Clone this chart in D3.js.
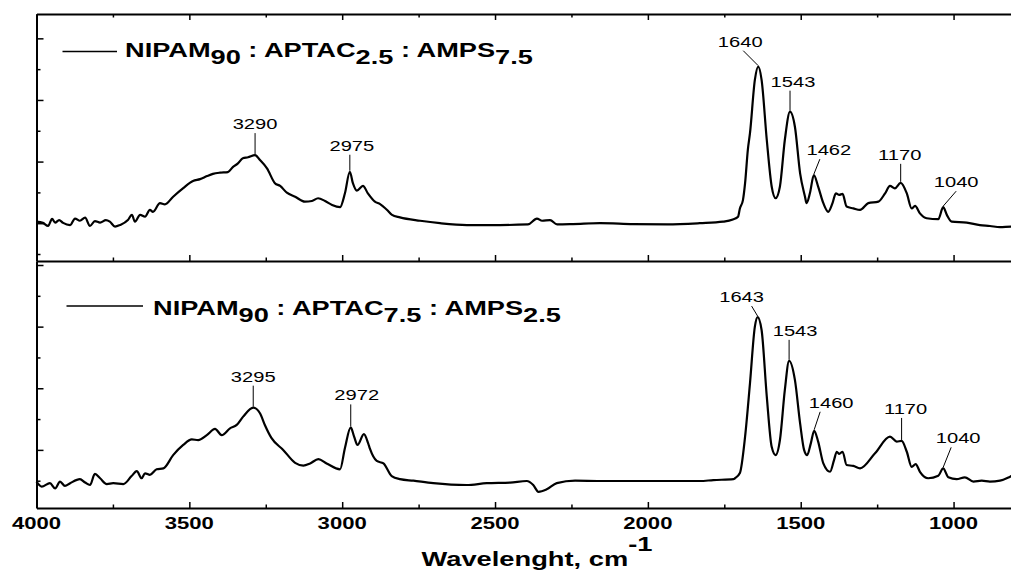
<!DOCTYPE html>
<html>
<head>
<meta charset="utf-8">
<script src="https://cdn.jsdelivr.net/npm/d3@7"></script>
<style>
  body { margin: 0; background: #fff; }
  svg { display: block; }
  text { font-family: Arial, "Liberation Sans", sans-serif; fill: #000; white-space: pre; }
</style>
</head>
<body>
<div id="chart"></div>
<script>
// ---- data (wavenumber cm-1, absorbance in a.u.) ----
const wnTop = [4000,3979,3962,3949,3939,3926,3913,3890,3874,3858,
  3841,3825,3809,3792,3773,3760,3743,3727,3701,3688,
  3678,3661,3645,3629,3619,3596,3580,3553,3521,3488,
  3465,3442,3423,3400,3374,3357,3341,3325,3308,3285,
  3269,3246,3220,3203,3181,3154,3122,3099,3079,3056,
  3033,3007,2991,2975,2965,2952,2932,2916,2893,2876,
  2853,2837,2811,2745,2680,2592,2484,2392,2363,2346,
  2320,2297,2245,2157,2049,1937,1830,1754,1722,1705,
  1699,1689,1682,1673,1666,1650,1639,1628,1611,1595,
  1582,1568,1552,1535,1519,1502,1486,1481,1470,1457,
  1443,1426,1410,1396,1385,1374,1363,1350,1328,1306,
  1279,1246,1224,1208,1192,1173,1153,1137,1126,1110,
  1088,1050,1034,1022,1006,957,914,881,848,812,800];
const absTop = [10.5,10.1,9.1,11.4,10.2,11.0,10.1,9.4,11.5,10.8,
  11.8,9.1,10.7,10.2,11.0,10.5,8.9,9.4,11.0,12.7,
  10.5,12.7,12.1,14.3,13.7,16.5,16.1,18.6,21.3,23.7,
  24.3,25.3,26.0,26.4,26.6,28.3,29.4,31.1,31.4,32.1,
  30.5,27.8,23.0,22.1,19.9,18.6,17.0,17.2,18.1,17.2,
  15.9,15.2,19.7,26.7,23.0,20.6,22.1,19.7,17.0,16.2,
  14.3,12.7,11.9,10.8,10.0,9.4,9.4,9.6,11.5,10.8,
  11.0,9.6,9.7,10.0,9.7,9.6,10.0,10.5,11.2,12.1,
  14.8,17.5,23.0,33.8,39.2,56.5,60.8,56.5,37.0,21.9,
  18.1,21.9,37.0,46.2,41.3,26.2,18.6,16.5,19.7,25.6,
  21.9,16.5,13.7,16.5,19.7,19.2,19.5,15.4,14.8,14.3,
  16.5,17.0,19.7,22.1,21.3,23.1,19.7,14.8,15.6,13.2,
  11.6,11.3,15.2,12.7,10.5,10.2,9.4,9.1,8.7,8.9,8.9];

const wnBottom = [4000,3983,3956,3939,3923,3907,3890,3858,3841,3825,
  3809,3792,3770,3749,3716,3689,3672,3656,3645,3629,
  3607,3585,3553,3520,3492,3471,3443,3416,3394,3367,
  3345,3324,3291,3269,3253,3231,3193,3154,3127,3105,
  3078,3051,3007,2991,2972,2961,2950,2929,2915,2909,
  2887,2865,2838,2811,2767,2702,2593,2527,2451,2396,
  2375,2358,2331,2298,2238,2157,2048,1938,1830,1786,
  1720,1715,1699,1682,1666,1650,1641,1628,1611,1595,
  1582,1568,1552,1538,1519,1502,1489,1479,1467,1456,
  1443,1426,1404,1391,1382,1374,1363,1350,1328,1306,
  1257,1208,1186,1170,1153,1137,1124,1110,1083,1050,
  1034,1017,990,963,935,908,881,848,815,800];
const absBottom = [-0.3,-1.9,-0.8,-2.5,-0.3,-1.7,-0.8,0.5,-0.6,-1.4,
  2.2,0.8,-1.1,-0.8,-1.1,1.5,3.1,0.8,2.4,1.9,
  3.7,4.0,8.3,11.6,13.4,13.2,14.8,16.8,14.8,17.0,
  18.1,20.8,23.7,21.9,18.1,13.8,10.0,5.8,4.9,5.6,
  7.0,5.6,3.7,10.6,17.3,14.3,11.6,15.1,12.1,10.3,
  6.4,5.6,1.5,0.5,0,-0.8,-1.4,-0.8,-0.6,-0.1,
  -1.4,-3.6,-2.8,-0.8,0,-0.1,-0.1,-0.1,-0.1,0.2,
  0.5,0.8,2.5,14.3,31.6,50.0,53.1,48.9,27.3,11.0,
  8.3,13.2,29.4,38.9,32.7,18.6,10.0,8.3,12.1,16.2,
  12.7,5.6,2.9,6.7,9.4,8.7,9.4,5.1,4.8,4.0,
  8.9,14.3,12.7,12.9,9.4,4.5,5.4,2.9,0.8,1.6,
  4.0,1.1,0.5,1.1,-0.3,0,-0.3,0,1.3,2.0];

const peaksTop = [3290, 2975, 1640, 1543, 1462, 1170, 1040];
const peaksBottom = [3295, 2972, 1643, 1543, 1460, 1170, 1040];

const xTickValues = [4000, 3500, 3000, 2500, 2000, 1500, 1000];
const xMinorValues = [3750, 3250, 2750, 2250, 1750, 1250];
const yTickValues = [0, 10, 20, 30, 40, 50, 60, 70];

const legendTop = [["NIPAM", "90"], [" : APTAC", "2.5"], [" : AMPS", "7.5"]];
const legendBottom = [["NIPAM", "90"], [" : APTAC", "7.5"], [" : AMPS", "2.5"]];
const xTitle = "Wavelenght, cm";

// ---- layout ----
const W = 1011, H = 570;
const SX = 1.3; // the original picture is stretched sideways

// leader offsets per peak label: [dx of leader top, leader height, dx of text]
const leadTop = [[0, 22, 0], [0, 17, 2], [-15, 16, -3], [0, 21, 3], [6, 16, 9], [0, 19, -1], [13, 16, 0]];
const leadBottom = [[0, 22, 0], [0, 23, 6], [-6, 11, -10], [0, 21, 6], [6, 19, 11], [0, 23, 4], [8, 21, 7]];

const svg = d3.select("#chart").append("svg")
  .attr("width", W)
  .attr("height", H);

const x = d3.scaleLinear().domain([4000, 800]).range([36.5, 1014.7]);
const yTop = d3.scaleLinear().domain([-2.27, 77.9]).range([261, 14]);
const yBottom = d3.scaleLinear().domain([-8.86, 71.3]).range([508, 261]);

const line = y => d3.line()
  .x(d => x(d.w))
  .y(d => y(d.a))
  .curve(d3.curveMonotoneX);

function drawPanel(wn, ab, y, peaks, lead) {
  const data = wn.map((w, i) => ({ w: w, a: ab[i] }));

  svg.append("path")
    .datum(data)
    .attr("fill", "none")
    .attr("stroke", "#000")
    .attr("stroke-width", 2.2)
    .attr("stroke-linejoin", "round")
    .attr("d", line(y));

  // peak labels with leader lines
  peaks.forEach((p, i) => {
    const pk = d3.greatest(data.filter(d => Math.abs(d.w - p) <= 15), d => d.a);
    const [ldx, lh, tdx] = lead[i];
    const px = x(pk.w), py = y(pk.a);
    svg.append("line")
      .attr("x1", px).attr("y1", py - 1)
      .attr("x2", px + ldx).attr("y2", py - lh)
      .attr("stroke", "#000")
      .attr("stroke-width", 1);
    svg.append("text")
      .attr("transform", `translate(${px + ldx + tdx},${py - lh - 4}) scale(${SX},1)`)
      .attr("text-anchor", "middle")
      .attr("font-size", 15.5)
      .text(p);
  });
}

drawPanel(wnTop, absTop, yTop, peaksTop, leadTop);
drawPanel(wnBottom, absBottom, yBottom, peaksBottom, leadBottom);

// ---- axes / frame ----
function styleAxis(g, withDomain) {
  g.selectAll(".tick line").attr("stroke", "#000").attr("stroke-width", 1.5);
  g.select(".domain").attr("stroke", "#000").attr("stroke-width", 2);
  if (!withDomain) g.select(".domain").remove();
  g.selectAll(".tick text").remove();
}

function xAxis(axisFn, yPos) {
  svg.append("g")
    .attr("transform", `translate(0,${yPos})`)
    .call(axisFn(x).tickValues(xTickValues).tickSize(-6).tickSizeOuter(0).tickFormat(""))
    .call(g => styleAxis(g, true));
  svg.append("g")
    .attr("transform", `translate(0,${yPos})`)
    .call(axisFn(x).tickValues(xMinorValues).tickSize(-3.5).tickSizeOuter(0).tickFormat(""))
    .call(g => styleAxis(g, false));
}
xAxis(d3.axisBottom, 508);
xAxis(d3.axisBottom, 261);
xAxis(d3.axisTop, 14);

function yAxis(y) {
  svg.append("g")
    .attr("transform", "translate(36.5,0)")
    .call(d3.axisLeft(y).tickValues(yTickValues.filter((v, i) => i % 2 === 1)).tickSize(-7).tickSizeOuter(0).tickFormat(""))
    .call(g => styleAxis(g, true));
  svg.append("g")
    .attr("transform", "translate(36.5,0)")
    .call(d3.axisLeft(y).tickValues(yTickValues.filter((v, i) => i % 2 === 0)).tickSize(-4).tickSizeOuter(0).tickFormat(""))
    .call(g => styleAxis(g, false));
}
yAxis(yTop);
yAxis(yBottom);

svg.append("line")
  .attr("x1", x(800)).attr("x2", x(800))
  .attr("y1", 14).attr("y2", 508)
  .attr("stroke", "#000").attr("stroke-width", 2);

// tick labels
svg.append("g")
  .selectAll("text")
  .data(xTickValues)
  .join("text")
  .attr("transform", d => `translate(${x(d)},528.5) scale(${SX},1)`)
  .attr("text-anchor", "middle")
  .attr("font-size", 17)
  .attr("font-weight", "bold")
  .text(d => d);

// axis title
const title = svg.append("text")
  .attr("transform", `translate(421.5,566) scale(${SX},1)`)
  .attr("font-size", 21)
  .attr("font-weight", "bold");
title.append("tspan").text(xTitle);
title.append("tspan").attr("dy", -15).text("-1");

// ---- legends ----
function legend(parts, lx1, lx2, ly, tx, base) {
  svg.append("line")
    .attr("x1", lx1).attr("x2", lx2)
    .attr("y1", ly).attr("y2", ly)
    .attr("stroke", "#000").attr("stroke-width", 1.5);
  const t = svg.append("text")
    .attr("font-size", 20)
    .attr("font-weight", "bold");
  parts.forEach(([main, sub], i) => {
    t.append("tspan").attr("dy", i === 0 ? 0 : -7).text(main);
    t.append("tspan").attr("dy", 7).text(sub);
  });
  const len = t.node().getComputedTextLength();
  t.attr("transform", `translate(${tx},${base}) scale(${408 / len},1)`);
}
legend(legendTop, 62.5, 117, 51.5, 125, 56.5);
legend(legendBottom, 66.5, 143, 306, 153, 314.5);
</script>
</body>
</html>
